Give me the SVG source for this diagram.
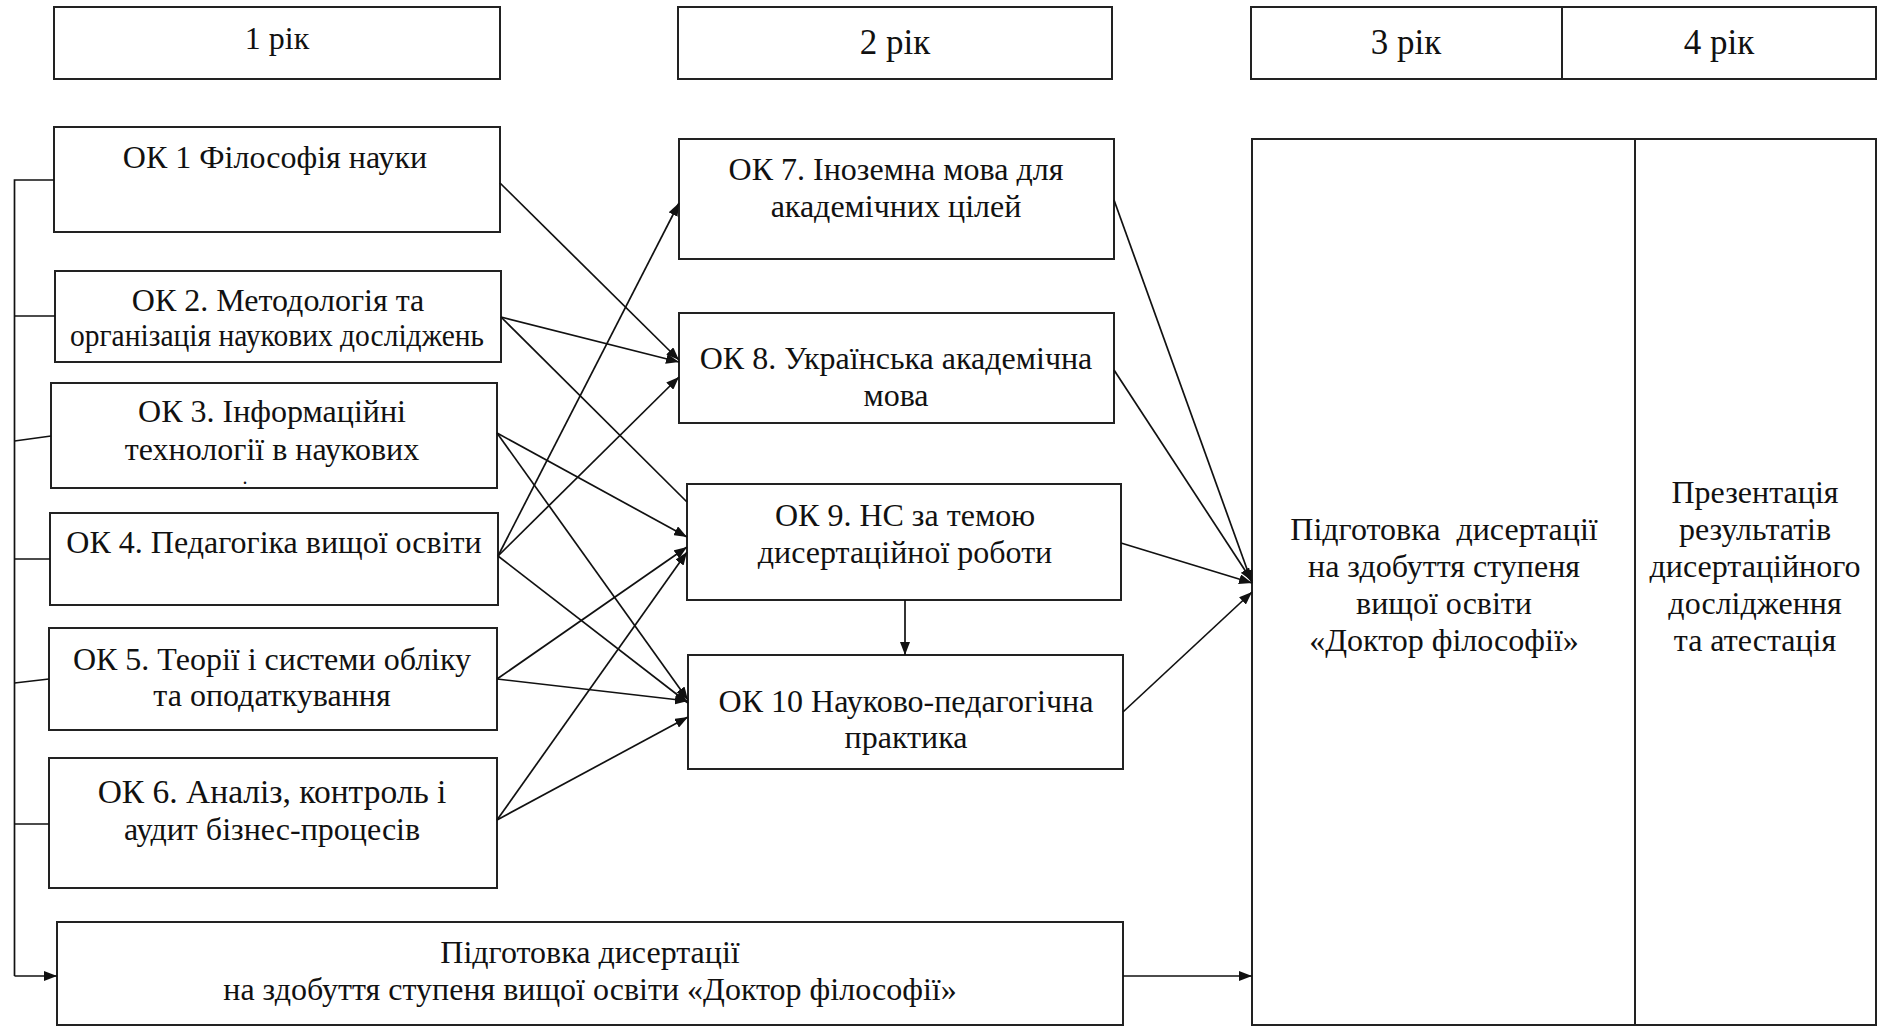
<svg xmlns="http://www.w3.org/2000/svg" width="1889" height="1026" viewBox="0 0 1889 1026">
<defs>
<marker id="ah" markerUnits="userSpaceOnUse" markerWidth="14" markerHeight="10" refX="13" refY="5" orient="auto">
<path d="M0,0 L13,5 L0,10 z" fill="#111"/>
</marker>
<style>
.box{fill:#fff;stroke:#222;stroke-width:2}
.t{font-family:"Liberation Serif","Times New Roman",serif;font-size:32px;fill:#111;text-anchor:middle}
.h{font-size:35px}
.ln{fill:none;stroke:#111;stroke-width:1.7}
.ar{fill:none;stroke:#111;stroke-width:1.7;marker-end:url(#ah)}
</style>
</defs>
<rect width="1889" height="1026" fill="#fff"/>

<g id="hdr1"><rect class="box" x="54" y="7" width="446" height="72"/><text class="t" x="277" y="49">1 рік</text></g>
<g id="hdr2"><rect class="box" x="678" y="7" width="434" height="72"/><text class="t h" x="895" y="54">2 рік</text></g>
<g id="hdr34"><rect class="box" x="1251" y="7" width="625" height="72"/><line x1="1562" y1="7" x2="1562" y2="79" stroke="#222" stroke-width="2"/><text class="t h" x="1406" y="54">3 рік</text><text class="t h" x="1719" y="54">4 рік</text></g>

<g id="ok1"><rect class="box" x="54" y="127" width="446" height="105"/><text class="t" x="275" y="168">ОК 1 Філософія науки</text></g>
<g id="ok2"><rect class="box" x="55" y="271" width="446" height="91"/><text class="t" x="278" y="311">ОК 2. Методологія та</text><text class="t" x="277" y="346" textLength="414" lengthAdjust="spacingAndGlyphs">організація наукових досліджень</text></g>
<g id="ok3"><rect class="box" x="51" y="383" width="446" height="105"/><text class="t" x="272" y="422">ОК 3. Інформаційні</text><text class="t" x="272" y="460">технології в наукових</text><text class="t" x="245" y="484" style="font-size:20px">.</text></g>
<g id="ok4"><rect class="box" x="50" y="513" width="448" height="92"/><text class="t" x="274" y="553">ОК 4. Педагогіка вищої освіти</text></g>
<g id="ok5"><rect class="box" x="49" y="628" width="448" height="102"/><text class="t" x="272" y="670">ОК 5. Теорії і системи обліку</text><text class="t" x="272" y="706">та оподаткування</text></g>
<g id="ok6"><rect class="box" x="49" y="758" width="448" height="130"/><text class="t" x="272" y="803" style="font-size:33.5px">ОК 6. Аналіз, контроль і</text><text class="t" x="272" y="840">аудит бізнес-процесів</text></g>
<g id="ok7"><rect class="box" x="679" y="139" width="435" height="120"/><text class="t" x="896" y="180">ОК 7. Іноземна мова для</text><text class="t" x="896" y="217">академічних цілей</text></g>
<g id="ok8"><rect class="box" x="679" y="313" width="435" height="110"/><text class="t" x="896" y="369">ОК 8. Українська академічна</text><text class="t" x="896" y="406">мова</text></g>
<g id="ok9"><rect class="box" x="687" y="484" width="434" height="116"/><text class="t" x="905" y="526">ОК 9. НС за темою</text><text class="t" x="905" y="563">дисертаційної роботи</text></g>
<g id="ok10"><rect class="box" x="688" y="655" width="435" height="114"/><text class="t" x="906" y="712">ОК 10 Науково-педагогічна</text><text class="t" x="906" y="748">практика</text></g>
<g id="diss1"><rect class="box" x="57" y="922" width="1066" height="103"/><text class="t" x="590" y="963">Підготовка дисертації</text><text class="t" x="590" y="1000">на здобуття ступеня вищої освіти «Доктор філософії»</text></g>
<g id="diss3"><rect class="box" x="1252" y="139" width="383" height="886"/><text class="t" x="1444" y="540" xml:space="preserve">Підготовка  дисертації</text><text class="t" x="1444" y="577">на здобуття ступеня</text><text class="t" x="1444" y="614">вищої освіти</text><text class="t" x="1444" y="651">«Доктор філософії»</text></g>
<g id="pres4"><rect class="box" x="1635" y="139" width="241" height="886"/><text class="t" x="1755" y="503">Презентація</text><text class="t" x="1755" y="540">результатів</text><text class="t" x="1755" y="577">дисертаційного</text><text class="t" x="1755" y="614">дослідження</text><text class="t" x="1755" y="651">та атестація</text></g>

<g id="connectors">
<polyline class="ln" points="54,180 14.5,180 14.5,976"/>
<line class="ln" x1="14.5" y1="316" x2="55" y2="316"/>
<line class="ln" x1="14.5" y1="441" x2="51" y2="436"/>
<line class="ln" x1="14.5" y1="559" x2="50" y2="559"/>
<line class="ln" x1="14.5" y1="683" x2="49" y2="679"/>
<line class="ln" x1="14.5" y1="824" x2="49" y2="824"/>
<line class="ar" x1="14.5" y1="976" x2="57" y2="976"/>

<line class="ar" x1="500" y1="183" x2="679" y2="360"/>
<line class="ar" x1="501" y1="317" x2="679" y2="362"/>
<line class="ln" x1="501" y1="317" x2="687" y2="502"/>
<line class="ar" x1="497" y1="433" x2="687" y2="537"/>
<line class="ar" x1="497" y1="433" x2="688" y2="700"/>
<line class="ar" x1="498" y1="556" x2="679" y2="203"/>
<line class="ar" x1="498" y1="556" x2="679" y2="377"/>
<line class="ar" x1="498" y1="556" x2="688" y2="703"/>
<line class="ar" x1="497" y1="679" x2="687" y2="547"/>
<line class="ar" x1="497" y1="679" x2="688" y2="701"/>
<line class="ar" x1="497" y1="820" x2="687" y2="552"/>
<line class="ar" x1="497" y1="820" x2="688" y2="717"/>

<line class="ar" x1="905" y1="600" x2="905" y2="655"/>

<line class="ar" x1="1114" y1="200" x2="1252" y2="583"/>
<line class="ar" x1="1114" y1="370" x2="1252" y2="581"/>
<line class="ar" x1="1121" y1="543" x2="1252" y2="583"/>
<line class="ar" x1="1123" y1="712" x2="1252" y2="592"/>
<line class="ar" x1="1123" y1="976" x2="1252" y2="976"/>
</g>
</svg>
